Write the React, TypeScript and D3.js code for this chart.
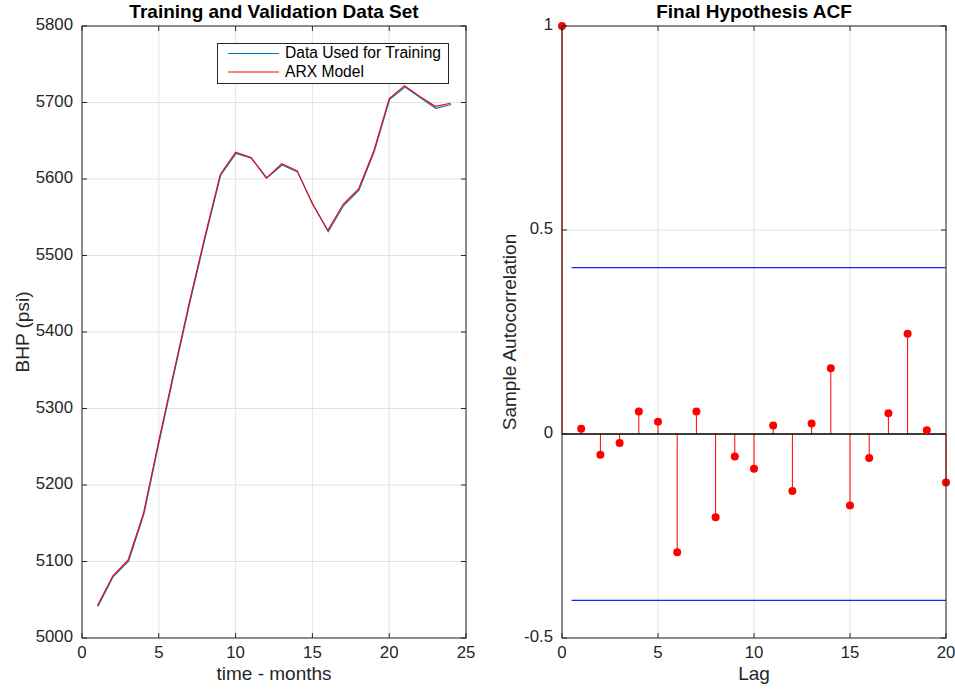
import React, { useEffect, useRef } from 'react';
import * as d3 from 'd3';

// Left panel data (BHP in psi, by month)
const months = [1, 2, 3, 4, 5, 6, 7, 8, 9, 10, 11, 12, 13, 14, 15, 16, 17, 18, 19, 20, 21, 22, 23, 24];
const trainingBHP = [5042, 5081, 5101, 5163, 5258, 5350, 5440, 5525, 5606, 5634, 5628, 5602, 5619, 5610, 5567, 5532, 5566, 5586, 5637, 5705, 5721, 5707, 5693, 5698];
const arxBHP = [5042, 5081, 5102, 5163, 5258, 5350, 5440, 5525, 5606, 5635, 5628, 5601, 5620, 5611, 5568, 5533, 5567, 5587, 5637, 5705, 5722, 5708, 5695, 5699];
const leftXTicks = [0, 5, 10, 15, 20, 25];
const leftYTicks = [5000, 5100, 5200, 5300, 5400, 5500, 5600, 5700, 5800];
const legendLabels = ['Data Used for Training', 'ARX Model'];

// Right panel data (sample ACF)
const lags = [0, 1, 2, 3, 4, 5, 6, 7, 8, 9, 10, 11, 12, 13, 14, 15, 16, 17, 18, 19, 20];
const acf = [1, 0.013, -0.051, -0.022, 0.055, 0.03, -0.29, 0.055, -0.204, -0.055, -0.085, 0.021, -0.14, 0.026, 0.161, -0.175, -0.059, 0.051, 0.246, 0.009, -0.119];
const confBound = 0.408;
const rightXTicks = [0, 5, 10, 15, 20];
const rightYTicks = [-0.5, 0, 0.5, 1];

const FONT = '"Liberation Sans", Arial, Helvetica, sans-serif';
const AXIS = '#262626';
const GRID = '#e3e3e3';

export default function App() {
  const svgRef = useRef<SVGSVGElement>(null);

  useEffect(() => {
    if (!svgRef.current) return;
    const svg = d3.select(svgRef.current);
    svg.selectAll('*').remove();

    const top = 26;
    const bottom = 638;

    // grid lines behind the data
    const drawGrid = (
      x: d3.ScaleLinear<number, number>,
      y: d3.ScaleLinear<number, number>,
      xTicks: number[],
      yTicks: number[]
    ) => {
      const [x0, x1] = x.range();
      const [y0, y1] = y.range();
      const g = svg.append('g');
      xTicks.forEach((t) => {
        g.append('line').attr('x1', x(t)).attr('x2', x(t)).attr('y1', y0).attr('y2', y1)
          .attr('stroke', GRID).attr('stroke-width', 1);
      });
      yTicks.forEach((t) => {
        g.append('line').attr('x1', x0).attr('x2', x1).attr('y1', y(t)).attr('y2', y(t))
          .attr('stroke', GRID).attr('stroke-width', 1);
      });
    };

    // box, inward ticks and tick labels
    const drawFrame = (
      x: d3.ScaleLinear<number, number>,
      y: d3.ScaleLinear<number, number>,
      xTicks: number[],
      yTicks: number[]
    ) => {
      const [x0, x1] = x.range();
      const [y0, y1] = y.range();
      const g = svg.append('g');
      g.append('rect').attr('x', x0).attr('y', y1).attr('width', x1 - x0).attr('height', y0 - y1)
        .attr('fill', 'none').attr('stroke', AXIS).attr('stroke-width', 1);
      const tl = 5;
      xTicks.forEach((t) => {
        g.append('line').attr('x1', x(t)).attr('x2', x(t)).attr('y1', y0).attr('y2', y0 - tl).attr('stroke', AXIS);
        g.append('line').attr('x1', x(t)).attr('x2', x(t)).attr('y1', y1).attr('y2', y1 + tl).attr('stroke', AXIS);
        g.append('text').attr('x', x(t)).attr('y', y0 + 20).attr('text-anchor', 'middle')
          .attr('font-family', FONT).attr('font-size', '16.8px').attr('fill', AXIS).text(String(t));
      });
      yTicks.forEach((t) => {
        g.append('line').attr('x1', x0).attr('x2', x0 + tl).attr('y1', y(t)).attr('y2', y(t)).attr('stroke', AXIS);
        g.append('line').attr('x1', x1).attr('x2', x1 - tl).attr('y1', y(t)).attr('y2', y(t)).attr('stroke', AXIS);
        g.append('text').attr('x', x0 - 9).attr('y', y(t)).attr('text-anchor', 'end')
          .attr('dominant-baseline', 'middle')
          .attr('font-family', FONT).attr('font-size', '16.8px').attr('fill', AXIS).text(String(t));
      });
    };

    const addTitles = (cx: number, title: string, xLabel: string, yLabel: string, yLabelX: number) => {
      svg.append('text').attr('x', cx).attr('y', 18).attr('text-anchor', 'middle')
        .attr('font-family', FONT).attr('font-size', '19px').attr('font-weight', 'bold')
        .attr('fill', '#000').text(title);
      svg.append('text').attr('x', cx).attr('y', 680).attr('text-anchor', 'middle')
        .attr('font-family', FONT).attr('font-size', '19px').attr('fill', AXIS).text(xLabel);
      svg.append('text').attr('transform', `translate(${yLabelX},${(top + bottom) / 2}) rotate(-90)`)
        .attr('text-anchor', 'middle')
        .attr('font-family', FONT).attr('font-size', '19px').attr('fill', AXIS).text(yLabel);
    };

    // ---------- Left panel ----------
    const xL = d3.scaleLinear().domain([0, 25]).range([82, 466]);
    const yL = d3.scaleLinear().domain([5000, 5800]).range([bottom, top]);
    drawGrid(xL, yL, leftXTicks, leftYTicks);

    const line = d3.line<number>().x((_, i) => xL(months[i])).y((d) => yL(d));
    svg.append('path').datum(trainingBHP).attr('d', line).attr('fill', 'none')
      .attr('stroke', '#0072BD').attr('stroke-width', 1.2).attr('transform', 'translate(0.5,0.5)');
    svg.append('path').datum(arxBHP).attr('d', line).attr('fill', 'none')
      .attr('stroke', '#ff0000').attr('stroke-width', 1.1);

    drawFrame(xL, yL, leftXTicks, leftYTicks);
    addTitles((82 + 466) / 2, 'Training and Validation Data Set', 'time - months', 'BHP (psi)', 29);

    // legend
    const lg = svg.append('g');
    lg.append('rect').attr('x', 217.5).attr('y', 43.5).attr('width', 231).attr('height', 40)
      .attr('fill', '#fff').attr('stroke', AXIS).attr('stroke-width', 1);
    const legendColors = ['#0072BD', '#ff0000'];
    legendLabels.forEach((label, i) => {
      const ly = 53.5 + i * 18.5;
      lg.append('line').attr('x1', 228).attr('x2', 279).attr('y1', ly).attr('y2', ly)
        .attr('stroke', legendColors[i]).attr('stroke-width', 1.1);
      lg.append('text').attr('x', 285).attr('y', ly + 0.5).attr('dominant-baseline', 'middle')
        .attr('font-family', FONT).attr('font-size', '15.6px').attr('fill', '#000').text(label);
    });

    // ---------- Right panel ----------
    const xR = d3.scaleLinear().domain([0, 20]).range([562, 946]);
    const yR = d3.scaleLinear().domain([-0.5, 1]).range([bottom, top]);
    drawGrid(xR, yR, rightXTicks, rightYTicks);

    // confidence bounds
    [confBound, -confBound].forEach((b) => {
      svg.append('line').attr('x1', xR(0.5)).attr('x2', xR(20)).attr('y1', yR(b)).attr('y2', yR(b))
        .attr('stroke', '#2020ff').attr('stroke-width', 1.2);
    });

    // stems
    lags.forEach((lag, i) => {
      svg.append('line').attr('x1', xR(lag)).attr('x2', xR(lag)).attr('y1', yR(0)).attr('y2', yR(acf[i]))
        .attr('stroke', '#ff0000').attr('stroke-width', 1);
    });
    // zero line
    svg.append('line').attr('x1', xR(0)).attr('x2', xR(20)).attr('y1', yR(0)).attr('y2', yR(0))
      .attr('stroke', '#000').attr('stroke-width', 1.3);
    lags.forEach((lag, i) => {
      svg.append('circle').attr('cx', xR(lag)).attr('cy', yR(acf[i])).attr('r', 4)
        .attr('fill', '#ff0000');
    });

    drawFrame(xR, yR, rightXTicks, rightYTicks);
    addTitles((562 + 946) / 2, 'Final Hypothesis ACF', 'Lag', 'Sample Autocorrelation', 516);
  }, []);

  return (
    <div style={{ position: 'absolute', left: 0, top: 0 }}>
      <svg ref={svgRef} width={955} height={689} style={{ display: 'block', background: '#fff' }}></svg>
    </div>
  );
}
